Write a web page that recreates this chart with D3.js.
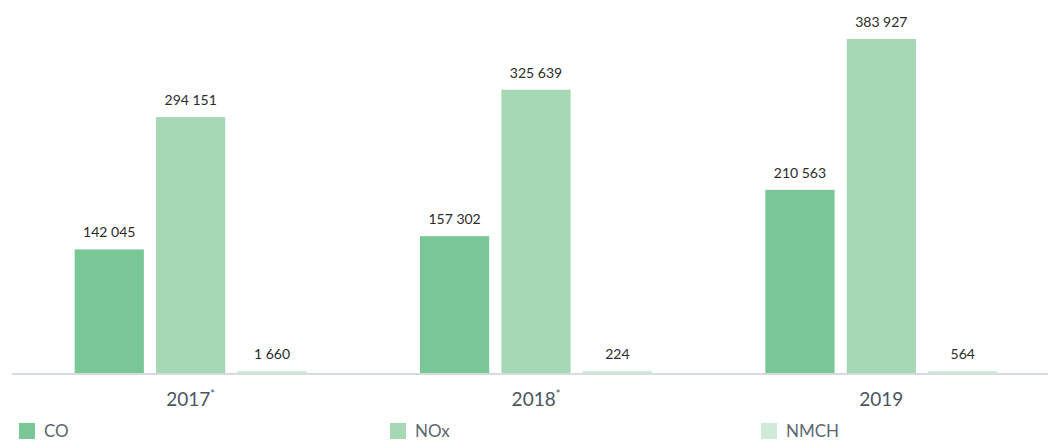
<!DOCTYPE html>
<html lang="en">
<head>
<meta charset="utf-8">
<style>
body {
  margin: 0;
  background: #fff;
  font-family: 'Lato', 'Open Sans', sans-serif;
}
.barLabel {
  fill: #2b2b2b;
  font-size: 14px;
  text-anchor: middle;
}
.yearLabel {
  fill: #4a5561;
  font-size: 19px;
  text-anchor: middle;
}
.legendText {
  fill: #5b6770;
  font-size: 17px;
}
</style>
<title>Emissions</title>
<script src="https://cdn.jsdelivr.net/npm/d3@7"></script>
</head>
<body>
<div id="chart"></div>
<script>

var w = 1048,
    h = 441;

// data
var years = ["2017", "2018", "2019"];
var starred = [true, true, false];
var series = ["CO", "NOx", "NMCH"];
var coValues = [142045, 157302, 210563];
var noxValues = [294151, 325639, 383927];
var nmchValues = [1660, 224, 564];

var colours = ["#79c797", "#a7d8b5", "#d0eada"];

var rows = years.map(function(y, i){
  return {year: y, star: starred[i], values: [coValues[i], noxValues[i], nmchValues[i]]};
});

var svg = d3.select("#chart")
            .append("svg")
            .attr("width", w)
            .attr("height", h);

var baseline = 373;

var x = d3.scaleBand()
          .domain(years)
          .range([18, 1054]);

var x1 = d3.scaleBand()
           .domain(series)
           .range([0, 232])
           .paddingInner(0.15);

var y = d3.scaleLinear()
          .domain([0, 383927])
          .range([baseline, 39]);

var fmt = function(v){
  return d3.format(",")(v).replace(/,/g, " ");
};

var groups = svg.selectAll("g.year")
                .data(rows)
                .enter()
                .append("g")
                .attr("class", "year")
                .attr("transform", function(d){
                  return "translate(" + (x(d.year) + x.bandwidth() / 2 - 116) + ",0)";
                });

groups.selectAll("rect")
      .data(function(d){ return d.values; })
      .enter()
      .append("rect")
      .attr("x", function(d, i){ return x1(series[i]); })
      .attr("width", x1.bandwidth())
      .attr("y", function(d){ return Math.min(y(d), baseline - 2); })
      .attr("height", function(d){ return Math.max(baseline - y(d), 2); })
      .style("fill", function(d, i){ return colours[i]; });

groups.selectAll("text.barLabel")
      .data(function(d){ return d.values; })
      .enter()
      .append("text")
      .attr("class", "barLabel")
      .attr("x", function(d, i){ return x1(series[i]) + x1.bandwidth() / 2; })
      .attr("y", function(d){ return Math.min(y(d), baseline - 2) - 12; })
      .text(fmt);

// axis line
svg.append("line")
   .attr("x1", 12)
   .attr("x2", w)
   .attr("y1", baseline + 1)
   .attr("y2", baseline + 1)
   .style("stroke", "#d5dadf")
   .style("stroke-width", 2);

var yearText = svg.selectAll("text.yearLabel")
                  .data(rows)
                  .enter()
                  .append("text")
                  .attr("class", "yearLabel")
                  .attr("x", function(d){ return x(d.year) + x.bandwidth() / 2; })
                  .attr("y", 406)
                  .text(function(d){ return d.year; });

yearText.filter(function(d){ return d.star; })
        .append("tspan")
        .attr("dy", -8)
        .style("font-size", "11px")
        .text("*");

// legend
var legend = svg.selectAll("g.legend")
                .data(series)
                .enter()
                .append("g")
                .attr("class", "legend")
                .attr("transform", function(d, i){
                  return "translate(" + (19 + i * 371) + ",423)";
                });

legend.append("rect")
      .attr("width", 16)
      .attr("height", 16)
      .style("fill", function(d, i){ return colours[i]; });

legend.append("text")
      .attr("class", "legendText")
      .attr("x", 25)
      .attr("y", 14)
      .text(function(d){ return d; });

</script>
</body>
</html>
